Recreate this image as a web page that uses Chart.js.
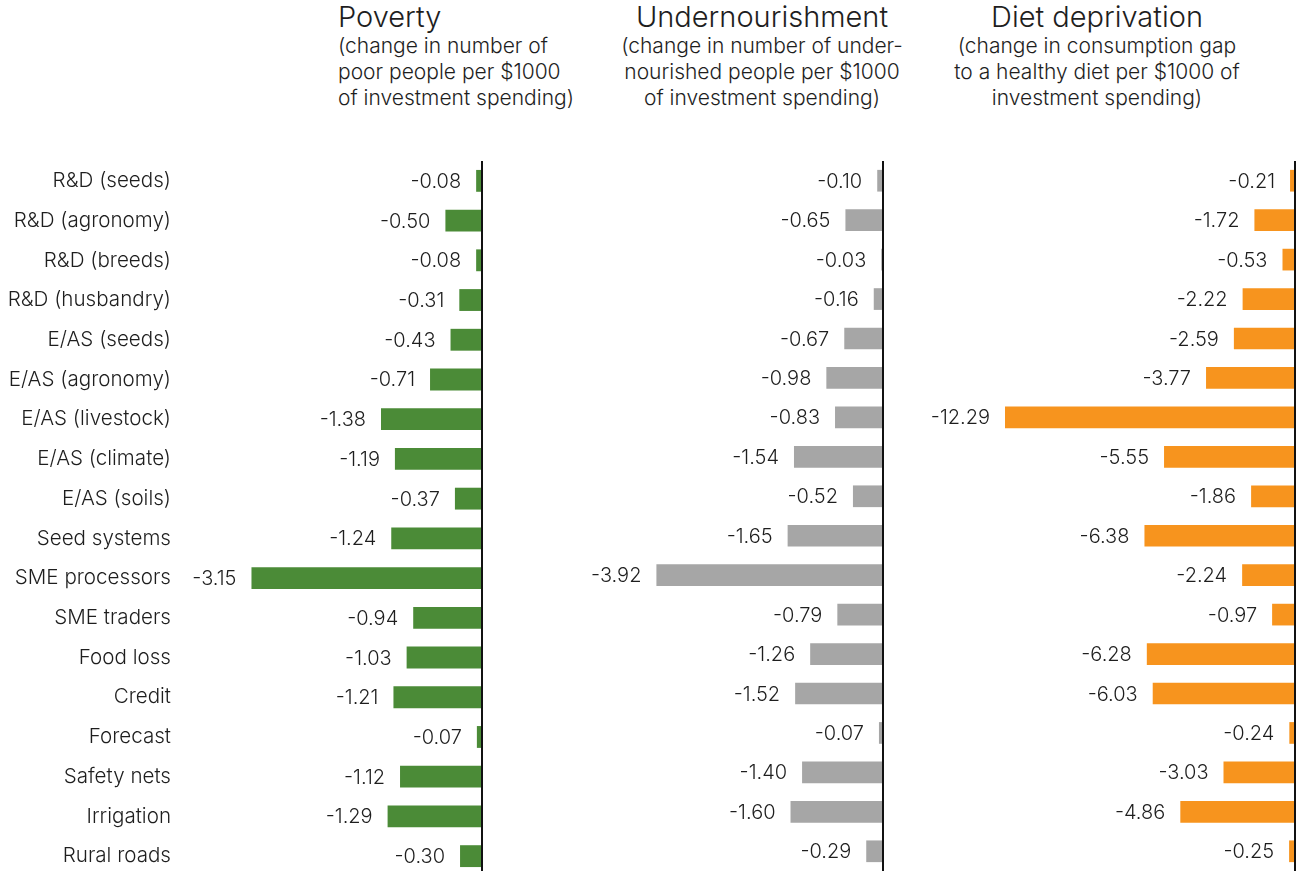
<!DOCTYPE html>
<html>
<head>
<meta charset="utf-8">
<script src="https://cdn.jsdelivr.net/npm/chart.js@4.4.1/dist/chart.umd.min.js"></script>
<style>
  html, body { margin: 0; padding: 0; background: #fff; overflow: hidden; }
  body { width: 1298px; height: 871px; position: relative; font-family: 'Inter', sans-serif; font-weight: 300; color: #1e1e1e; }
  .head { position: absolute; top: -0.5px; white-space: nowrap; }
  .head h2 { margin: 0; font-weight: 300; font-size: 29px; line-height: 33px; }
  .head p { margin: 0; font-size: 21px; line-height: 26px; }
  .center { width: 400px; text-align: center; }
  canvas { position: absolute; top: 0; }
</style>
</head>
<body>

<div class="head" style="left:338px">
  <h2>Poverty</h2>
  <p>(change in number of<br>poor people per $1000<br>of investment spending)</p>
</div>
<div class="head center" style="left:562px">
  <h2>Undernourishment</h2>
  <p>(change in number of under-<br>nourished people per $1000<br>of investment spending)</p>
</div>
<div class="head center" style="left:897px">
  <h2>Diet deprivation</h2>
  <p>(change in consumption gap<br>to a healthy diet per $1000 of<br>investment spending)</p>
</div>

<canvas id="povertyChart" width="485" height="876" style="left:0px"></canvas>
<canvas id="underChart" width="366" height="871" style="left:520px"></canvas>
<canvas id="dietChart" width="398" height="871" style="left:900px"></canvas>

<script>
// Data
const categories = [
  'R&D (seeds)', 'R&D (agronomy)', 'R&D (breeds)', 'R&D (husbandry)',
  'E/AS (seeds)', 'E/AS (agronomy)', 'E/AS (livestock)', 'E/AS (climate)',
  'E/AS (soils)', 'Seed systems', 'SME processors', 'SME traders',
  'Food loss', 'Credit', 'Forecast', 'Safety nets', 'Irrigation', 'Rural roads'
];
const poverty = [-0.08, -0.50, -0.08, -0.31, -0.43, -0.71, -1.38, -1.19, -0.37,
  -1.24, -3.15, -0.94, -1.03, -1.21, -0.07, -1.12, -1.29, -0.30];
const undernourishment = [-0.10, -0.65, -0.03, -0.16, -0.67, -0.98, -0.83, -1.54, -0.52,
  -1.65, -3.92, -0.79, -1.26, -1.52, -0.07, -1.40, -1.60, -0.29];
const dietDeprivation = [-0.21, -1.72, -0.53, -2.22, -2.59, -3.77, -12.29, -5.55, -1.86,
  -6.38, -2.24, -0.97, -6.28, -6.03, -0.24, -3.03, -4.86, -0.25];

const textColor = '#1e1e1e';
const fontFamily = "'Inter', sans-serif";

Chart.defaults.font.family = fontFamily;
Chart.defaults.font.weight = 300;
Chart.defaults.color = textColor;

// writes the value to the left of each bar
const valueLabels = {
  id: 'valueLabels',
  afterDatasetsDraw(chart) {
    const ctx = chart.ctx;
    const values = chart.data.datasets[0].data;
    ctx.save();
    ctx.font = "300 20px " + fontFamily;
    ctx.fillStyle = textColor;
    ctx.textAlign = 'right';
    ctx.textBaseline = 'middle';
    chart.getDatasetMeta(0).data.forEach((bar, i) => {
      ctx.fillText(values[i].toFixed(2), bar.x - 15, bar.y + 1);
    });
    ctx.restore();
  }
};

function makeChart(id, values, color, xMin, showLabels) {
  return new Chart(document.getElementById(id), {
    type: 'bar',
    data: {
      labels: categories,
      datasets: [{
        data: values,
        backgroundColor: color,
        barPercentage: 0.55,
        categoryPercentage: 1,
      }],
    },
    options: {
      indexAxis: 'y',
      responsive: false,
      animation: false,
      layout: { padding: { top: 161, right: 3, bottom: 0, left: 0 } },
      scales: {
        x: {
          min: xMin,
          max: 0,
          ticks: { display: false },
          border: { display: false },
          grid: {
            drawTicks: false,
            lineWidth: 2,
            color: c => (c.tick && c.tick.value === 0) ? '#111' : 'rgba(0,0,0,0)', // zero line only
          },
        },
        y: {
          display: showLabels,
          border: { display: false },
          grid: { display: false, drawTicks: false },
          ticks: { color: textColor, padding: 19, font: { size: 20.6, weight: 300 } },
          afterFit: scale => {
            if (!showLabels) return;
            scale.width = 190;
            scale.paddingTop = 0;
            scale.paddingBottom = 0;
          },
        },
      },
      plugins: {
        legend: { display: false },
        tooltip: { enabled: false },
      },
    },
    plugins: [valueLabels],
  });
}

makeChart('povertyChart', poverty, '#4b8b37', -3.99, true);
makeChart('underChart', undernourishment, '#a6a6a6', -6.28, false);
makeChart('dietChart', dietDeprivation, '#f7941e', -16.74, false);
</script>
</body>
</html>
